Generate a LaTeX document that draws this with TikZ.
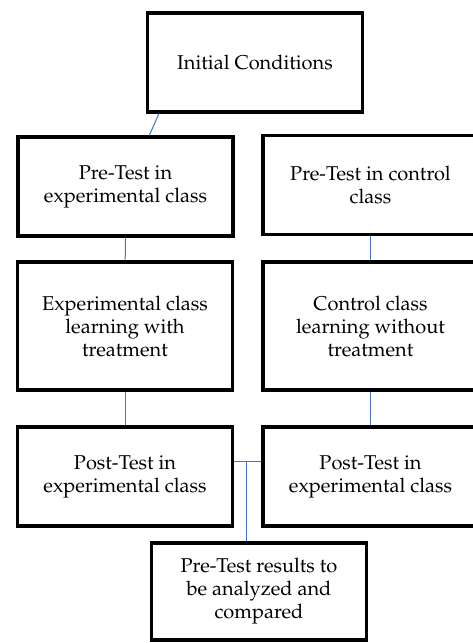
\documentclass[tikz,border=0pt]{standalone}
\usepackage[T1]{fontenc}
\usepackage{mathpazo}
\usepackage{tikz}
\usepackage{xcolor}
\definecolor{linkblue}{RGB}{68,114,196}

\begin{document}
\begin{tikzpicture}[x=1pt,y=-1pt,
		box/.style={draw, line width=3.2pt, rectangle, align=center, minimum width=215pt, minimum height=99pt, inner sep=0pt, font=\fontsize{20}{23}\selectfont},
		link/.style={draw=linkblue, line width=1pt}]
			\useasboundingbox (0,0) rectangle (472,643);
			\node[box] (A) at (255,62.5){Initial Conditions};
			\node[box] (B) at (125.5,186.5){Pre-Test in\\experimental class};
			\node[box] (C) at (370.5,185){Pre-Test in control\\class};
			\node[box, minimum height=128pt] (D) at (125,326){Experimental class\\learning with\\treatment};
			\node[box, minimum height=128pt] (E) at (370.5,326){Control class\\learning without\\treatment};
			\node[box] (F) at (125,476.5){Post-Test in\\experimental class};
			\node[box] (G) at (370.5,476.5){Post-Test in\\experimental class};
			\node[box, minimum height=97pt] (H) at (259,591.5){Pre-Test results to\\be analyzed and\\compared};
			\draw[link] (A.208) -- (B.65);
			\draw[link] (B) -- (D);
			\draw[link] (C) -- (E);
			\draw[link] (D) -- (F);
			\draw[link] (E) -- (G);
			\draw[link] (F.8) -- coordinate[pos=0.47] (J) (G.172);
			\draw[link] (J) -- (J |- H.north);
		\end{tikzpicture}
\end{document}
